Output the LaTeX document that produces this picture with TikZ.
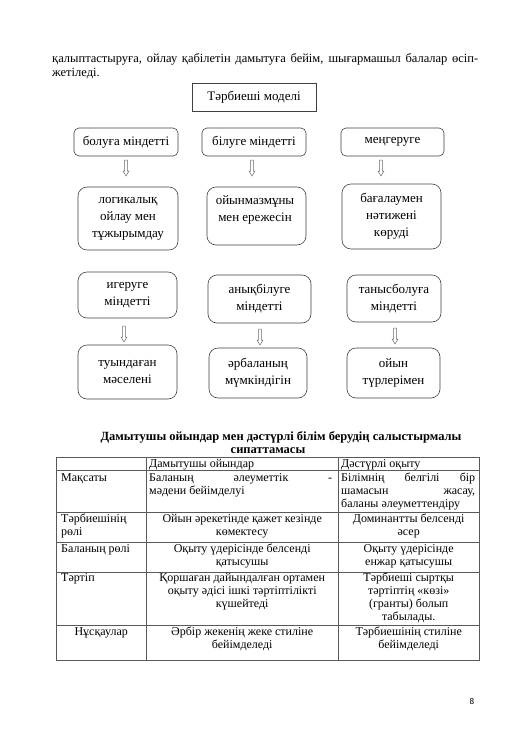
\documentclass[tikz,border=0pt]{standalone}
\usepackage{fontspec}
\setmainfont{Liberation Serif}
\newfontfamily\pagefont{Carlito}
\newcommand{\bodyfont}{\fontsize{12.5}{14}\selectfont}
\newcommand{\tabfont}{\fontsize{12}{13}\selectfont}
\newcommand{\cellL}[2]{\parbox[t]{#1}{\tabfont #2}}
\newcommand{\cellJ}[2]{\parbox[t]{#1}{\tabfont #2}}
\newcommand{\cellC}[2]{\parbox[t]{#1}{\tabfont\centering #2}}
\begin{document}
\begin{tikzpicture}[x=1pt,y=-1pt,
  every node/.style={inner sep=0pt},
  sqbox/.style={draw=black!75, line width=0.6pt, align=center, font=\fontsize{13}{17}\selectfont},
  rbox/.style={draw=black!75, line width=0.6pt, rounded corners=5pt, align=center, font=\fontsize{13}{17}\selectfont},
  bbox/.style={rbox, rounded corners=9pt},
  boxtext/.style={align=center, font=\fontsize{13}{17}\selectfont},
  tline/.style={draw=black!65, line width=0.6pt},
  cell/.style={anchor=base west, inner sep=0pt},
  hdown/.pic={\draw[black!60, line width=0.5pt, fill=white]
     (-1.4,0) -- (1.4,0) -- (1.4,11) -- (3,11) -- (0,16) -- (-3,11) -- (-1.4,11) -- cycle;}
]
\useasboundingbox[fill=white] (0,0) rectangle (531,750);

% body text
\node[anchor=base west] (body) at (52,62) {\parbox[t]{426pt}{\bodyfont қалыптастыруға, ойлау қабілетін дамытуға бейім, шығармашыл балалар өсіп-\linebreak жетіледі.}};

% diagram
\node[sqbox, minimum width=124pt, minimum height=28pt] (model) at (254,97) {Тәрбиеші моделі};

\node[rbox, minimum width=104pt, minimum height=28pt] (r1a) at (126,142) {болуға міндетті};
\node[rbox, minimum width=104pt, minimum height=28pt] (r1b) at (254,142) {білуге міндетті};
\node[rbox, minimum width=103pt, minimum height=28pt] (r1c) at (392.5,142) {меңгеруге};

\pic at (126,160) {hdown};
\pic at (252,160) {hdown};
\pic at (381,160) {hdown};

\node[bbox, minimum width=100pt, minimum height=63pt] (r2a) at (128,218.5) {логикалық\\ойлау мен\\тұжырымдау};
\node[bbox, minimum width=99pt, minimum height=58pt] (r2b) at (256.5,216) {};
\node[boxtext] (t2b) at (255,210) {ойынмазмұны\\мен ережесін};
\node[bbox, minimum width=99pt, minimum height=65pt] (r2c) at (391.5,216.5) {бағалаумен\\нәтижені\\көруді};

\node[bbox, minimum width=99pt, minimum height=46pt] (r3a) at (127.5,295) {игеруге\\міндетті};
\node[bbox, minimum width=103pt, minimum height=48pt] (r3b) at (259.5,299) {анықбілуге\\міндетті};
\node[bbox, minimum width=94pt, minimum height=47pt] (r3c) at (394,298.5) {танысболуға\\міндетті};

\pic at (124,326) {hdown};
\pic at (260,329) {hdown};
\pic at (395,328) {hdown};

\node[bbox, minimum width=99pt, minimum height=54pt] (r4a) at (127.5,372) {туындаған\\мәселені};
\node[bbox, minimum width=98pt, minimum height=50pt] (r4b) at (258,373) {әрбаланың\\мүмкіндігін};
\node[bbox, minimum width=93pt, minimum height=50pt] (r4c) at (393.5,373) {ойын\\түрлерімен};

% title
\node[anchor=base, font=\bodyfont\bfseries] (title1) at (281,440) {Дамытушы ойындар мен дәстүрлі білім берудің салыстырмалы};
\node[anchor=base, font=\bodyfont\bfseries] (title2) at (268,453) {сипаттамасы};

% table grid
\draw[tline] (56,457) rectangle (479,660);
\draw[tline] (146,457) -- (146,660);
\draw[tline] (338,457) -- (338,660);
\foreach \yy in {470,512,542,572,625} {\draw[tline] (56,\yy) -- (479,\yy);}

% header
\node[cell] (h2) at (149,467) {\cellL{186pt}{Дамытушы ойындар}};
\node[cell] (h3) at (341,467) {\cellL{135pt}{Дәстүрлі оқыту}};

% row: Мақсаты
\node[cell] (a1) at (61,481) {\cellL{82pt}{Мақсаты}};
\node[cell] (a2) at (149,481) {\cellJ{183pt}{Баланың әлеуметтік -\linebreak мәдени бейімделуі}};
\node[cell] (a3) at (341,481) {\cellJ{134pt}{Білімнің белгілі бір\linebreak шамасын жасау,\linebreak баланы әлеуметтендіру}};

% row: Тәрбиешінің рөлі
\node[cell] (b1) at (61,522) {\cellL{84pt}{Тәрбиешінің\\рөлі}};
\node[cell] (b2) at (149,522) {\cellC{186pt}{Ойын әрекетінде қажет кезінде\\көмектесу}};
\node[cell] (b3) at (341,522) {\cellC{135pt}{Доминантты белсенді\\әсер}};

% row: Баланың рөлі
\node[cell] (c1) at (61,552) {\cellL{84pt}{Баланың рөлі}};
\node[cell] (c2) at (149,552) {\cellC{186pt}{Оқыту үдерісінде белсенді\\қатысушы}};
\node[cell] (c3) at (341,552) {\cellC{135pt}{Оқыту үдерісінде\\енжар қатысушы}};

% row: Тәртіп
\node[cell] (d1) at (61,581) {\cellL{84pt}{Тәртіп}};
\node[cell] (d2) at (149,581) {\cellC{186pt}{Қоршаған дайындалған ортамен\\оқыту әдісі ішкі тәртіптілікті\\күшейтеді}};
\node[cell] (d3) at (341,581) {\cellC{135pt}{Тәрбиеші сыртқы\\тәртіптің «көзі»\\(гранты) болып\\табылады.}};

% row: Нұсқаулар
\node[cell] (e1) at (58,635) {\cellC{86pt}{Нұсқаулар}};
\node[cell] (e2) at (149,635) {\cellC{186pt}{Әрбір жекенің жеке стиліне\\бейімделеді}};
\node[cell] (e3) at (341,635) {\cellC{135pt}{Тәрбиешінің стиліне\\бейімделеді}};

% page number
\node[font=\pagefont\fontsize{9}{10}\selectfont] (pg) at (472,701) {8};
\end{tikzpicture}
\end{document}
